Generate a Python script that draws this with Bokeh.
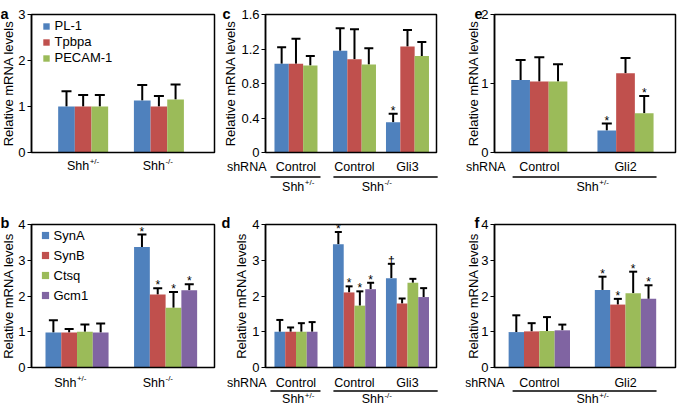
from bokeh.plotting import figure
from bokeh.models import (ColumnDataSource, Whisker, TeeHead, Legend, LegendItem,
                          FixedTicker, NumeralTickFormatter, Range1d)
from bokeh.layouts import row, column
from bokeh.embed import file_html
from bokeh.resources import INLINE
from bokeh.core.properties import value

FONT = "Liberation Sans"
COLORS = ["#4F81BD", "#C0504D", "#9BBB59", "#8064A2"]
NAN = float("nan")

# ---------------- data ----------------
# panel a
a_series = ["PL-1", "Tpbpa", "PECAM-1"]
a_pl1 = [1.00, 1.13]
a_pl1_err = [0.33, 0.34]
a_tpbpa = [1.00, 1.00]
a_tpbpa_err = [0.25, 0.23]
a_pecam = [1.00, 1.15]
a_pecam_err = [0.25, 0.33]

# panel b
b_series = ["SynA", "SynB", "Ctsq", "Gcm1"]
b_syna = [0.98, 3.37]
b_syna_err = [0.34, 0.35]
b_synb = [0.98, 2.04]
b_synb_err = [0.10, 0.18]
b_ctsq = [1.00, 1.67]
b_ctsq_err = [0.20, 0.44]
b_gcm1 = [0.98, 2.16]
b_gcm1_err = [0.25, 0.17]
b_marks = [["", "*"], ["", "*"], ["", "*"], ["", "*"]]

# panel c  (shRNA: Control / Shh+/-, Control / Shh-/-, Gli3 / Shh-/-)
c_shrna = ["Control", "Control", "Gli3"]
c_pl1 = [1.03, 1.18, 0.35]
c_pl1_err = [0.19, 0.26, 0.10]
c_tpbpa = [1.03, 1.08, 1.23]
c_tpbpa_err = [0.29, 0.35, 0.19]
c_pecam = [1.01, 1.02, 1.12]
c_pecam_err = [0.11, 0.19, 0.16]
c_marks = [["", "", "*"], ["", "", ""], ["", "", ""]]

# panel d
d_shrna = ["Control", "Control", "Gli3"]
d_syna = [1.00, 3.45, 2.50]
d_syna_err = [0.33, 0.34, 0.40]
d_synb = [1.00, 2.10, 1.79]
d_synb_err = [0.12, 0.17, 0.14]
d_ctsq = [1.00, 1.73, 2.37]
d_ctsq_err = [0.24, 0.40, 0.11]
d_gcm1 = [1.00, 2.19, 1.97]
d_gcm1_err = [0.27, 0.18, 0.25]
d_marks = [["", "*", "\u2020"], ["", "*", ""], ["", "*", ""], ["", "*", ""]]

# panel e (shRNA: Control, Gli2 ; Shh+/-)
e_shrna = ["Control", "Gli2"]
e_pl1 = [1.05, 0.32]
e_pl1_err = [0.29, 0.10]
e_tpbpa = [1.03, 1.15]
e_tpbpa_err = [0.35, 0.22]
e_pecam = [1.03, 0.57]
e_pecam_err = [0.25, 0.25]
e_marks = [["", "*"], ["", ""], ["", "*"]]

# panel f
f_shrna = ["Control", "Gli2"]
f_syna = [0.99, 2.17]
f_syna_err = [0.47, 0.37]
f_synb = [1.01, 1.76]
f_synb_err = [0.23, 0.16]
f_ctsq = [1.02, 2.08]
f_ctsq_err = [0.39, 0.60]
f_gcm1 = [1.04, 1.92]
f_gcm1_err = [0.16, 0.38]
f_marks = [["", "*"], ["", "*"], ["", "*"], ["", "*"]]

YLABEL = "Relative mRNA levels"
SHRNA = "shRNA"

# ---------------- layout constants (px) ----------------
COLS = [dict(w=219, l=31, r=5, ls=-1), dict(w=246, l=46, r=29, ls=0),
        dict(w=212, l=29, r=2, ls=-3)]
ROWS = [dict(h=205, t=14, b=53), dict(h=201, t=19, b=39)]


class Panel:
    """One panel: the whole canvas is the frame; the plot box is [xr] x [0, ymax]."""

    def __init__(self, col, rw, vals, errs, marks, gx, xr, bar_w, cap, ymax, yticks):
        self.xr = xr
        self.ymax = ymax
        self.fw = col["w"] - col["l"] - col["r"]
        self.fh = rw["h"] - rw["t"] - rw["b"]
        self.L, self.B = col["l"], rw["b"]
        u = (xr[1] - xr[0]) / self.fw
        v = ymax / self.fh
        self.u, self.v = u, v
        p = figure(width=col["w"], height=rw["h"],
                   x_range=Range1d(xr[0] - col["l"] * u, xr[1] + col["r"] * u),
                   y_range=Range1d(-rw["b"] * v, ymax + rw["t"] * v),
                   x_axis_type=None, output_backend="svg", toolbar_location=None, title=None,
                   min_border=0, min_border_left=0, min_border_right=0, min_border_top=0,
                   min_border_bottom=0)
        p.ygrid.visible = False
        p.outline_line_color = None
        p.background_fill_color = "white"
        p.border_fill_color = "white"
        ax = p.yaxis[0]
        ax.fixed_location = xr[0]
        ax.bounds = (0, ymax)
        ax.ticker = FixedTicker(ticks=yticks)
        ax.formatter = NumeralTickFormatter(format="0.[0]")
        ax.axis_label = YLABEL
        ax.axis_label_text_font = FONT
        ax.axis_label_text_font_size = "13px"
        ax.axis_label_text_font_style = "normal"
        ax.axis_label_text_color = "black"
        ax.axis_label_standoff = col["ls"]
        ax.major_label_text_font = FONT
        ax.major_label_text_font_size = "13px"
        ax.major_label_text_color = "black"
        ax.major_label_standoff = 2
        ax.major_tick_out = 4
        ax.major_tick_in = 0
        ax.minor_tick_out = 0
        ax.minor_tick_in = 0
        ax.axis_line_width = 1.5
        ax.major_tick_line_width = 1.2
        ax.axis_line_color = "black"
        ax.major_tick_line_color = "black"
        self.p = p

        n = len(vals)
        for i in range(n):
            off = (i - (n - 1) / 2) * bar_w
            xs = [g + off for g in gx]
            ups = [val + e for val, e in zip(vals[i], errs[i])]
            mk = marks[i] if marks is not None else [""] * len(xs)
            src = ColumnDataSource(dict(x=xs, top=vals[i], up=ups, mark=mk))
            p.vbar(x="x", top="top", width=bar_w, source=src, fill_color=COLORS[i],
                   line_color=None)
            p.add_layout(Whisker(source=src, base="x", lower="top", upper="up",
                                 upper_head=TeeHead(size=cap, line_width=2, line_color="black"),
                                 lower_head=None, line_width=2, line_color="black"))
            p.text(x="x", y="up", text="mark", source=src, text_font=value(FONT),
                   text_font_size="12px", text_align="center", text_baseline="alphabetic",
                   y_offset=-3, text_color="black")
        # plot box
        p.quad(left=[xr[0]], right=[xr[1]], bottom=[0], top=[ymax], fill_color=None,
               line_color="black", line_width=1.5)

    # offsets in px relative to the plot box (x from its left, y up from its bottom)
    def X(self, sx):
        return self.xr[0] + sx * self.u

    def Y(self, sy):
        return sy * self.v

    def txt(self, xs, sy, texts, size="12.5px", align="center", baseline="middle",
            bold=False, x_offset=0):
        self.p.text(x=list(xs), y=[self.Y(sy)] * len(texts), text=list(texts),
                    text_font=value(FONT), text_font_size=size, text_align=align,
                    text_baseline=baseline, text_font_style="bold" if bold else "normal",
                    x_offset=x_offset, text_color="black")

    def shh(self, xs, sy, sups):
        self.txt(xs, sy, ["Shh"] * len(xs), align="right", x_offset=6)
        self.txt(xs, sy + 4, sups, size="8px", align="left", x_offset=6.5)

    def ulines(self, spans, sy):
        y = self.Y(sy)
        self.p.segment(x0=[s[0] for s in spans], y0=[y] * len(spans),
                       x1=[s[1] for s in spans], y1=[y] * len(spans),
                       line_width=1.5, line_color="black")

    def letter(self, ch, sx, sy):
        self.txt([self.X(sx)], sy, [ch], size="14.5px", align="left", baseline="alphabetic",
                 bold=True)

    def legend(self, names, lx, top_gap, lh, gw, msize):
        items = []
        for i, nm in enumerate(names):
            r = self.p.scatter(x=[NAN], y=[NAN], marker="square", size=msize,
                               fill_color=COLORS[i], line_color=None)
            items.append(LegendItem(label=nm, renderers=[r]))
        hgt = lh * len(names)
        lg = Legend(items=items, location=(self.L + lx, self.B + self.fh - top_gap - hgt),
                    padding=0, margin=0, spacing=0, label_height=lh, glyph_height=lh,
                    glyph_width=gw, label_standoff=0, label_text_font=FONT,
                    label_text_font_size="13px", label_text_color="black",
                    background_fill_alpha=0, border_line_color=None)
        self.p.add_layout(lg)


# ---------------- panel a ----------------
A = Panel(COLS[0], ROWS[0], [a_pl1, a_tpbpa, a_pecam],
          [a_pl1_err, a_tpbpa_err, a_pecam_err], None, [1, 2], (0.318, 2.734), 0.22, 10, 3,
          [0, 1, 2, 3])
A.legend(a_series, 5.5, 3.5, 16, 18, 7)
A.shh([1, 2], -13, ["+/-", "-/-"])
A.letter("a", -31, A.fh + 0.5)

# ---------------- panel b ----------------
B = Panel(COLS[0], ROWS[1], [b_syna, b_synb, b_ctsq, b_gcm1],
          [b_syna_err, b_synb_err, b_ctsq_err, b_gcm1_err], b_marks, [1, 2], (0.486, 2.552),
          0.178, 9, 4, [0, 1, 2, 3, 4])
B.legend(b_series, 4.5, 1, 20, 18, 7.5)
B.shh([1 - 0.075, 2 - 0.075], -15, ["+/-", "-/-"])
B.letter("b", -31, B.fh + 1.3)

# ---------------- panel c ----------------
gx3 = [1, 2, 2.906]
C = Panel(COLS[1], ROWS[0], [c_pl1, c_tpbpa, c_pecam],
          [c_pl1_err, c_tpbpa_err, c_pecam_err], c_marks, gx3, (0.479, 3.402), 0.245, 9, 1.6,
          [0, 0.4, 0.8, 1.2, 1.6])
C.txt([C.X(1)], -14, [SHRNA], align="right")
C.txt(gx3, -14, c_shrna)
C.ulines([(1 - 0.436, 1 + 0.419), (2 - 0.36, C.xr[1] + 0.02)], -24.5)
C.shh([1.04, 2.4], -34, ["+/-", "-/-"])
C.letter("c", -43, C.fh + 0.5)

# ---------------- panel d ----------------
D = Panel(COLS[1], ROWS[1], [d_syna, d_synb, d_ctsq, d_gcm1],
          [d_syna_err, d_synb_err, d_ctsq_err, d_gcm1_err], d_marks, gx3, (0.479, 3.402),
          0.184, 7, 4, [0, 1, 2, 3, 4])
D.txt([D.X(1)], -15, [SHRNA], align="right")
D.txt(gx3, -15, d_shrna)
D.ulines([(1 - 0.436, 1 + 0.419), (2 - 0.36, D.xr[1] + 0.02)], -23.5)
D.shh([1.04, 2.4], -31.5, ["+/-", "-/-"])
D.letter("d", -44, D.fh + 1.3)

# ---------------- panel e ----------------
gx2 = [1, 2]
E = Panel(COLS[2], ROWS[0], [e_pl1, e_tpbpa, e_pecam],
          [e_pl1_err, e_tpbpa_err, e_pecam_err], e_marks, gx2, (0.48, 2.58), 0.217, 10, 2,
          [0, 1, 2])
E.txt([E.X(11)], -14, [SHRNA], align="right")
E.txt(gx2, -14, e_shrna)
E.ulines([(1 - 0.31, 2 + 0.36)], -24.5)
E.shh([1.62], -34, ["+/-"])
E.letter("e", -20, E.fh + 0.5)

# ---------------- panel f ----------------
F = Panel(COLS[2], ROWS[1], [f_syna, f_synb, f_ctsq, f_gcm1],
          [f_syna_err, f_synb_err, f_ctsq_err, f_gcm1_err], f_marks, gx2, (0.48, 2.58),
          0.178, 8, 4, [0, 1, 2, 3, 4])
F.txt([F.X(10)], -15, [SHRNA], align="right")
F.txt(gx2, -15, f_shrna)
F.ulines([(1 - 0.31, 2 + 0.36)], -23.5)
F.shh([1.62], -31.5, ["+/-"])
F.letter("f", -20, F.fh + 1.3)

layout = column(row(A.p, C.p, E.p), row(B.p, D.p, F.p))
open("out.html", "w").write(file_html(layout, INLINE))
